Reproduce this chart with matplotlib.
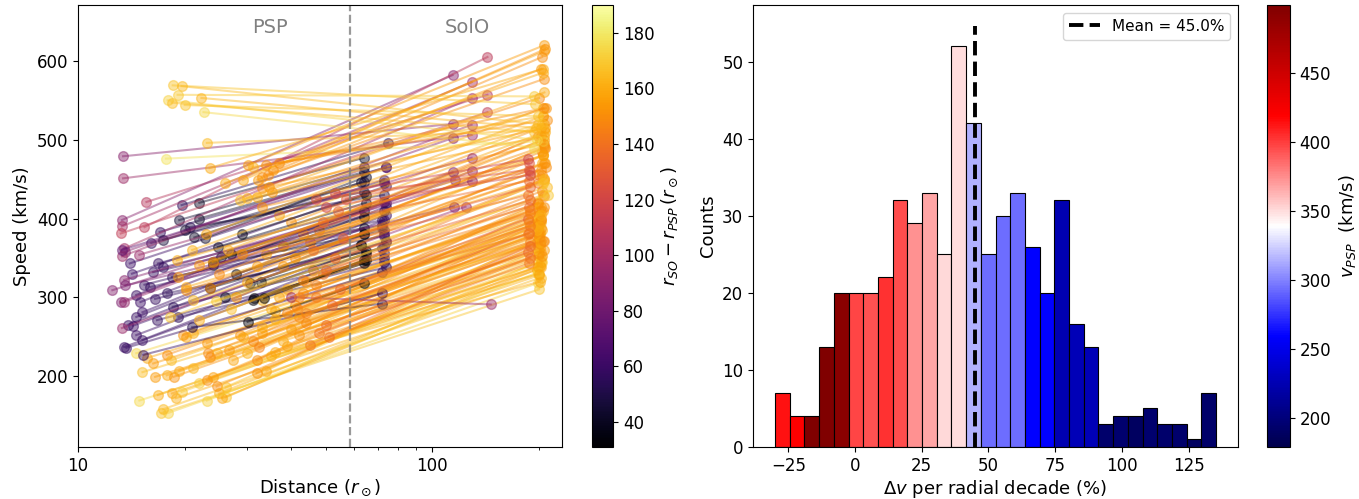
import numpy as np
import matplotlib
matplotlib.use("Agg")
import matplotlib.pyplot as plt
from matplotlib import colors, ticker

# ---------------- Left panel data: PSP -> SolO conjunction pairs ----------------
r_psp = [
    # orange, low speed
    17.2, 17.9, 17.4, 14.9, 16.8, 18.4, 19.6, 18.9, 16.5, 15.2, 17.8, 18.6, 19.3, 21.1, 22.0, 23.1,
    24.0, 25.0, 26.1, 25.5, 24.6, 23.1, 14.6, 15.7, 16.3, 17.8, 18.3, 20.2, 19.8, 21.1, 23.1, 23.2,
    24.6, 26.7, 23.6, 27.3, 28.6, 29.2, 31.1, 33.1, 31.9, 29.9, 34.0, 32.5, 26.1, 31.9,
    # dark purple
    14.0, 14.2, 14.6, 15.0, 14.6, 13.8, 14.3, 15.2, 13.5, 13.7, 15.2, 14.6, 15.3, 17.0, 16.1, 19.6,
    20.7, 16.3, 16.8, 17.4, 15.4, 16.0, 16.5, 16.7, 17.8, 18.4, 19.2, 18.5, 21.0,
    # orange, near the dividing line
    36, 38, 40, 42, 35, 37, 39, 44, 46, 33, 36, 41, 43, 38, 34, 45,
    48, 40, 37, 35, 39, 42, 44, 36, 33, 47, 49, 41, 38, 43,
    # black
    22.0, 22.0, 22.8, 21.3, 20.0, 24.0, 24.8, 25.4, 23.6, 24.0, 30.1, 31.1, 31.3, 32.9, 33.5, 30.5,
    28.0, 26.0, 27.0, 29.0, 17.4, 19.3,
    # magenta
    13.4, 13.4, 15.6, 13.3, 13.3, 13.2, 13.5, 13.6, 13.3, 15.4, 14.9, 13.2, 13.5, 12.5, 13.5, 13.6,
    13.3, 13.3, 40.0,
    # orange, mid speed
    19.0, 19.2, 20.2, 20.2, 21.1, 22.0, 22.0, 18.2, 23.6, 24.0, 25.0, 26.5, 28.0, 30.0, 27.0, 24.5,
    29.0, 32.0, 21.0, 23.0,
    # red-orange
    45, 48, 50, 44, 52, 47, 55, 43, 50, 53, 46, 56, 49, 54, 57, 42, 51, 38.8, 41.4, 47, 50, 53,
    # orange, high speed
    23.1, 17.7, 23.5, 30.1, 29.2, 33.0, 35.4, 32.1, 34.3, 33.1, 29.9, 35.2, 31.1, 34.0, 34.6, 31.9,
    28.6, 33.1, 26.0, 37.0,
    # yellow, fast wind
    18.5, 19.6, 19.1, 17.9, 18.4, 20.0, 22.3, 22.6,
]
v_psp = [
    153, 153, 158, 169, 176, 178, 180, 172, 199, 205, 201, 199, 207, 210, 191, 195,
    199, 178, 173, 172, 187, 169, 229, 223, 216, 227, 220, 250, 252, 255, 242, 229,
    229, 233, 224, 220, 252, 250, 245, 255, 220, 229, 207, 237, 186, 204,
    343, 330, 303, 294, 275, 265, 264, 281, 237, 236, 246, 252, 227, 383, 369, 417,
    389, 332, 343, 338, 316, 313, 298, 271, 305, 326, 275, 288, 262,
    230, 245, 260, 275, 285, 300, 310, 320, 335, 262, 272, 290, 305, 340, 355, 370,
    385, 395, 405, 225, 238, 252, 268, 282, 296, 315, 330, 350, 365, 380,
    420, 400, 375, 376, 385, 345, 364, 351, 312, 341, 269, 297, 299, 320, 299, 318,
    330, 300, 355, 380, 373, 398,
    479, 451, 421, 398, 390, 381, 362, 358, 352, 389, 354, 294, 294, 309, 322, 315,
    261, 360, 300,
    347, 326, 309, 313, 296, 341, 271, 275, 312, 345, 330, 360, 300, 320, 285, 295,
    355, 340, 360, 380,
    240, 255, 265, 280, 290, 300, 310, 322, 335, 350, 360, 375, 395, 410, 425, 300, 250, 280, 286, 425, 415, 432,
    496, 476, 464, 468, 449, 453, 462, 449, 455, 439, 426, 434, 465, 468, 440, 427,
    423, 415, 445, 470,
    569, 568, 557, 550, 547, 544, 553, 535,
]
r_so = [
    200, 198, 202, 199, 201, 197, 204, 200, 198, 199, 203, 201, 197, 200, 202, 199,
    205, 201, 198, 203, 200, 199, 198, 200, 202, 199, 201, 197, 200, 202, 199, 203,
    200, 198, 201, 204, 199, 200, 202, 197, 201, 199, 200, 203, 199, 201,
    73, 74, 73, 74, 73, 72, 73, 74, 73, 72, 73, 74, 72, 74, 73, 75,
    73, 72, 74, 73, 72, 73, 74, 73, 72, 73, 74, 73, 72,
    200, 203, 206, 198, 202, 205, 199, 204, 207, 201, 197, 203, 206, 200, 204, 208,
    199, 202, 205, 201, 198, 204, 207, 200, 203, 206, 199, 202, 205, 201,
    64, 64, 65, 63, 64, 64, 65, 64, 63, 64, 64, 65, 64, 65, 64, 63,
    64, 65, 64, 65, 64, 64,
    114, 129, 143, 114, 129, 143, 129, 114, 129, 143, 129, 114, 129, 116, 129, 115,
    124, 74, 146,
    205, 208, 204, 206, 210, 207, 205, 205, 209, 206, 204, 208, 206, 205, 207, 212,
    203, 206, 207, 205,
    187, 188, 186, 189, 187, 188, 186, 189, 187, 188, 186, 189, 187, 188, 187, 186, 188, 187, 188, 187, 188, 186,
    206, 205, 205, 207, 206, 204, 208, 203, 206, 200, 207, 209, 205, 210, 208, 206,
    204, 207, 205, 206,
    195, 198, 194, 197, 193, 199, 196, 194,
]
v_so = [
    310, 318, 325, 330, 340, 335, 345, 328, 352, 360, 356, 362, 370, 375, 350, 365,
    372, 340, 345, 338, 355, 332, 385, 380, 372, 392, 383, 400, 410, 415, 395, 388,
    378, 390, 380, 385, 420, 405, 410, 418, 395, 400, 375, 398, 360, 368,
    449, 441, 421, 415, 398, 388, 380, 405, 356, 332, 365, 372, 305, 465, 445, 496,
    430, 398, 420, 410, 392, 385, 370, 345, 362, 378, 338, 350, 292,
    330, 345, 360, 380, 395, 410, 420, 435, 450, 370, 385, 400, 415, 455, 470, 490,
    505, 515, 530, 320, 338, 352, 372, 390, 405, 428, 445, 462, 480, 498,
    477, 459, 453, 446, 434, 402, 420, 388, 366, 380, 318, 347, 343, 359, 347, 366,
    380, 355, 410, 430, 446, 465,
    520, 506, 557, 582, 573, 535, 553, 502, 519, 605, 477, 459, 460, 449, 448, 415,
    415, 465, 291,
    480, 470, 455, 448, 440, 492, 430, 445, 465, 500, 485, 510, 470, 480, 450, 430,
    505, 490, 520, 540,
    343, 350, 357, 370, 381, 390, 400, 407, 415, 423, 430, 440, 448, 460, 470, 380, 365, 395, 410, 462, 455, 475,
    512, 498, 590, 620, 612, 605, 615, 590, 577, 553, 560, 540, 530, 525, 515, 505,
    520, 495, 585, 540,
    545, 520, 555, 500, 510, 530, 515, 490,
]
# r_SO - r_PSP
sep_colour = [
    168, 172, 165, 175, 160, 158, 170, 162, 155, 166, 160, 152, 158, 164, 170, 150,
    156, 162, 168, 158, 150, 172, 174, 160, 155, 150, 165, 158, 152, 160, 155, 148,
    162, 156, 150, 158, 152, 160, 148, 155, 150, 162, 158, 145, 166, 152,
    59, 60, 58, 59, 58, 58, 59, 59, 60, 58, 58, 59, 57, 57, 57, 55,
    52, 56, 57, 56, 57, 57, 57, 56, 54, 55, 55, 54, 51,
    158, 160, 155, 150, 162, 158, 155, 148, 145, 160, 162, 152, 150, 155, 160, 145,
    142, 152, 158, 160, 158, 152, 148, 160, 162, 145, 142, 152, 155, 150,
    42, 42, 42, 42, 44, 40, 40, 39, 39, 40, 34, 34, 33, 32, 31, 33,
    36, 39, 37, 36, 47, 45,
    90, 98, 108, 90, 100, 112, 100, 88, 98, 110, 96, 86, 94, 88, 90, 84,
    95, 74, 98,
    160, 155, 150, 158, 165, 152, 160, 168, 150, 155, 148, 160, 152, 158, 165, 170,
    150, 155, 162, 158,
    142, 140, 136, 145, 135, 141, 131, 146, 137, 135, 140, 133, 138, 134, 130, 144, 137, 148, 146, 125, 120, 118,
    165, 178, 160, 155, 158, 150, 152, 155, 150, 148, 160, 152, 162, 150, 155, 158,
    165, 152, 160, 150,
    168, 165, 170, 172, 166, 168, 163, 175,
]
r_boundary = 58.4          # PSP / SolO dividing line
sep_range = (31, 190)      # colour range of r_SO - r_PSP

# ---------------- Right panel data: histogram ----------------
hist_counts = [7, 4, 4, 13, 20, 20, 20, 22, 32, 29, 33, 25, 52, 42, 25,
               30, 33, 26, 20, 32, 16, 13, 3, 4, 4, 5, 3, 3, 1, 7]
hist_vpsp = [413, 419, 499, 499, 492, 397, 393, 403, 395, 373, 367, 351, 349, 314, 293,
             293, 293, 259, 259, 224, 227, 227, 193, 195, 188, 195, 193, 193, 188, 192]
dv_min, dv_max = -30.0, 135.3
dv_mean = 45.0
vpsp_range = (179, 499)

# ---------------- Figure ----------------
plt.rcParams['font.size'] = 12
fig = plt.figure(figsize=(13.59, 4.99), dpi=100)
ax1 = fig.add_axes([0.0574, 0.1042, 0.3561, 0.8858])
cax1 = fig.add_axes([0.4356, 0.1042, 0.0155, 0.8858])
ax2 = fig.add_axes([0.5541, 0.1042, 0.3569, 0.8858])
cax2 = fig.add_axes([0.9323, 0.1042, 0.0169, 0.8858])

cmap1 = plt.get_cmap('inferno')
norm1 = colors.Normalize(vmin=sep_range[0], vmax=sep_range[1])
for i in range(len(r_psp)):
    c = cmap1(norm1(sep_colour[i]))
    ax1.plot([r_psp[i], r_so[i]], [v_psp[i], v_so[i]], '-o', color=c,
             alpha=0.45, lw=1.5, ms=7)

ax1.axvline(r_boundary, color='grey', ls='--', lw=1.6, alpha=0.8)
ax1.set_xscale('log')
ax1.set_xlim(10, 232)
ax1.set_ylim(110, 671)
ax1.xaxis.set_major_formatter(ticker.ScalarFormatter())
ax1.xaxis.set_minor_formatter(ticker.NullFormatter())
ax1.set_xlabel(r'Distance ($r_\odot$)', fontsize=13, labelpad=2)
ax1.set_ylabel('Speed (km/s)', fontsize=13)
ax1.text(0.397, 0.948, 'PSP', transform=ax1.transAxes, ha='center', va='center',
         color='grey', fontsize=14)
ax1.text(0.804, 0.948, 'SolO', transform=ax1.transAxes, ha='center', va='center',
         color='grey', fontsize=14)

sm1 = plt.cm.ScalarMappable(norm=norm1, cmap=cmap1)
cb1 = fig.colorbar(sm1, cax=cax1)
cb1.set_label(r'$r_{SO} - r_{PSP}\,(r_\odot)$', fontsize=13)

# histogram
cmap2 = plt.get_cmap('seismic')
norm2 = colors.Normalize(vmin=vpsp_range[0], vmax=vpsp_range[1])
edges = np.linspace(dv_min, dv_max, len(hist_counts) + 1)
ax2.bar(edges[:-1], hist_counts, width=np.diff(edges), align='edge',
        color=cmap2(norm2(np.array(hist_vpsp))), edgecolor='black', lw=0.8)
ax2.vlines(dv_mean, 0, max(hist_counts) * 1.05, colors='black', linestyles='--',
           lw=2.8, label=f'Mean = {dv_mean:.1f}%')
ax2.set_ylim(0, max(hist_counts) * 1.05 * 1.05)
ax2.set_xlim(dv_min - 0.05 * (dv_max - dv_min), dv_max + 0.05 * (dv_max - dv_min))
ax2.set_xlabel(r'$\Delta v$ per radial decade (%)', fontsize=13, labelpad=2)
ax2.set_ylabel('Counts', fontsize=13)
ax2.legend(loc='upper right', fontsize=11)

sm2 = plt.cm.ScalarMappable(norm=norm2, cmap=cmap2)
cb2 = fig.colorbar(sm2, cax=cax2)
cb2.set_label(r'$v_{PSP}$  (km/s)', fontsize=13)

fig.savefig('out.png', dpi=100)
